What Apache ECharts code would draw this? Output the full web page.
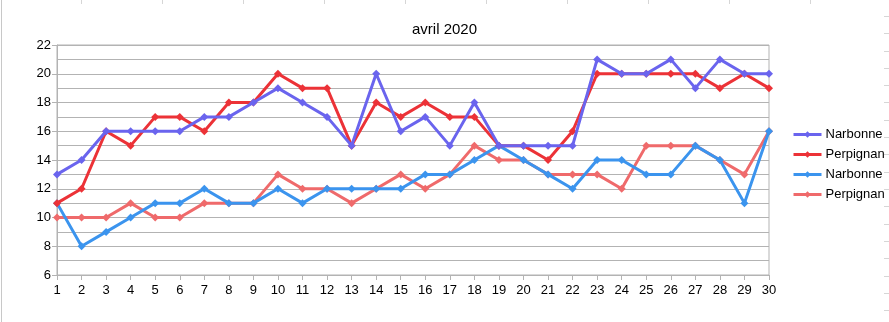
<!DOCTYPE html>
<html>
<head>
<meta charset="utf-8">
<script src="https://cdn.jsdelivr.net/npm/echarts@6/dist/echarts.min.js"></script>
<style>
  html, body { margin: 0; padding: 0; background: #ffffff; }
  #chart { width: 889px; height: 322px; }
</style>
</head>
<body>
<div id="chart"></div>
<script>
// Days of April 2020
const days = ['1','2','3','4','5','6','7','8','9','10','11','12','13','14','15',
              '16','17','18','19','20','21','22','23','24','25','26','27','28','29','30'];

// Daily maximum temperatures (°C)
const narbonneMax  = [13,14,16,16,16,16,17,17,18,19,18,17,15,20,16,17,15,18,15,15,15,15,21,20,20,21,19,21,20,20];
const perpignanMax = [11,12,16,15,17,17,16,18,18,20,19,19,15,18,17,18,17,17,15,15,14,16,20,20,20,20,20,19,20,19];

// Daily minimum temperatures (°C)
const narbonneMin  = [11,8,9,10,11,11,12,11,11,12,11,12,12,12,12,13,13,14,15,14,13,12,14,14,13,13,15,14,11,16];
const perpignanMin = [10,10,10,11,10,10,11,11,11,13,12,12,11,12,13,12,13,15,14,14,13,13,13,12,15,15,15,14,13,16];

const seriesDefs = [
  { name: 'Narbonne',  data: narbonneMax,  color: '#6a64ee' },
  { name: 'Perpignan', data: perpignanMax, color: '#ec3237' },
  { name: 'Narbonne',  data: narbonneMin,  color: '#3b94ee' },
  { name: 'Perpignan', data: perpignanMin, color: '#ef6a6b' }
];

const FONT = '"Liberation Sans", Arial, sans-serif';

// the min series share names with the max ones; a zero-width suffix keeps legend entries distinct
const keyOf = (s, i) => s.name + (i >= 2 ? '\u200b' : '');

// faint sheet cell borders behind the chart
const sheetMarks = [
  { type: 'line', shape: { x1: 1.5, y1: 0, x2: 1.5, y2: 322 }, style: { stroke: '#c8c8c8', lineWidth: 1 } }
];
for (let x = 81; x < 889; x += 81) {
  sheetMarks.push({ type: 'line', shape: { x1: x + 0.5, y1: 0, x2: x + 0.5, y2: 4 }, style: { stroke: '#d6d6d6', lineWidth: 1 } });
}
for (let y = 16; y < 322; y += 17.3) {
  sheetMarks.push({ type: 'line', shape: { x1: 884, y1: Math.round(y) + 0.5, x2: 889, y2: Math.round(y) + 0.5 }, style: { stroke: '#d6d6d6', lineWidth: 1 } });
}

const chart = echarts.init(document.getElementById('chart'), null, { renderer: 'canvas' });

chart.setOption({
  animation: false,
  backgroundColor: '#ffffff',
  title: {
    text: 'avril 2020',
    left: 'center',
    top: 17,
    textStyle: { fontFamily: FONT, fontSize: 15, fontWeight: 'normal', color: '#000000' }
  },
  legend: {
    orient: 'vertical',
    left: 787,
    top: 123,
    itemGap: 7,
    itemWidth: 28,
    itemHeight: 8,
    lineStyle: { width: 3 },
    textStyle: { fontFamily: FONT, fontSize: 13, color: '#000000', padding: [0, 0, 0, -1] },
    data: seriesDefs.map(keyOf)
  },
  grid: {
    left: 57,
    top: 45,
    width: 712,
    height: 230,
    show: true,
    borderColor: '#b3b3b3',
    borderWidth: 1
  },
  xAxis: {
    type: 'category',
    data: days,
    boundaryGap: false,
    axisLine: { lineStyle: { color: '#b3b3b3', width: 1 } },
    axisTick: { show: true, alignWithLabel: true, length: 5, lineStyle: { color: '#b3b3b3' } },
    axisLabel: { fontFamily: FONT, fontSize: 13, color: '#000000', margin: 9, interval: 0 },
    splitLine: { show: false }
  },
  yAxis: {
    type: 'value',
    min: 6,
    max: 22,
    interval: 2,
    axisLine: { show: true, lineStyle: { color: '#b3b3b3', width: 1 } },
    axisTick: { show: true, length: 5, lineStyle: { color: '#b3b3b3' } },
    minorTick: { show: false, splitNumber: 2 },
    axisLabel: { fontFamily: FONT, fontSize: 13, color: '#000000', margin: 6 },
    splitLine: { show: true, lineStyle: { color: '#b3b3b3', width: 1 } },
    minorSplitLine: { show: true, lineStyle: { color: '#b3b3b3', width: 1 } }
  },
  graphic: sheetMarks.map(g => Object.assign({ silent: true, z: -10 }, g)),
  series: seriesDefs.map((s, i) => ({
    type: 'line',
    name: keyOf(s, i),
    data: s.data,
    color: s.color,
    symbol: 'diamond',
    symbolSize: 8,
    showSymbol: true,
    lineStyle: { width: 3, color: s.color },
    itemStyle: { color: s.color },
    z: 10 - i
  }))
});
</script>
</body>
</html>
